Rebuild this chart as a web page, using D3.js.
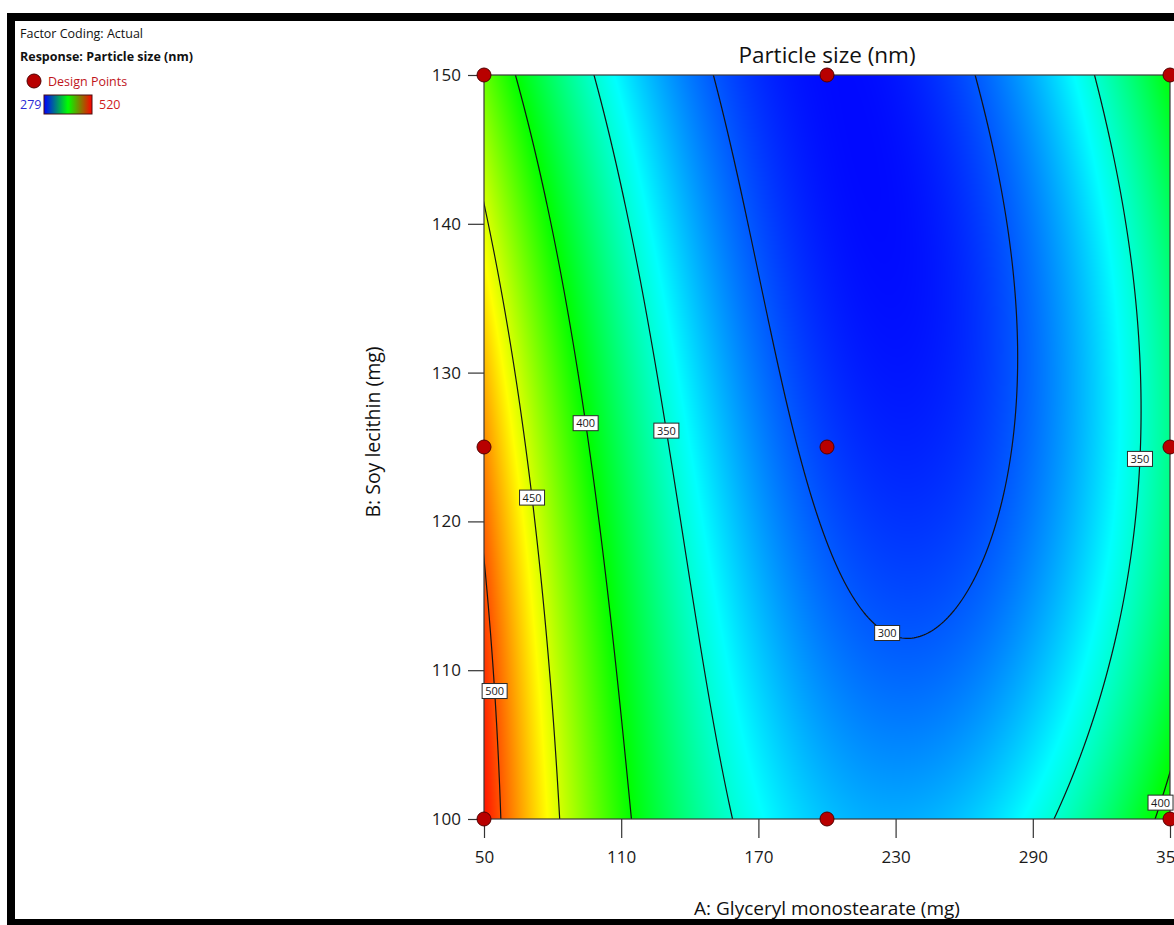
<!DOCTYPE html>
<html>
<head>
<meta charset="utf-8">
<script src="https://cdn.jsdelivr.net/npm/d3@7"></script>
<style>
  html, body { margin: 0; padding: 0; background: #fff; }
  svg { display: block; }
  text { font-family: "Open Sans", "Noto Sans", sans-serif; }
</style>
</head>
<body>
<svg id="chart" width="1174" height="925"></svg>
<script>
// ---- Factors and axes (actual units) ----
const factorA = [50, 350];   // A: Glyceryl monostearate (mg)
const factorB = [100, 150];  // B: Soy lecithin (mg)
const xTicks = [50, 110, 170, 230, 290, 350];
const yTicks = [100, 110, 120, 130, 140, 150];

// ---- Design runs (3 x 3 factorial) ----
const designA = [50, 50, 50, 200, 200, 200, 350, 350, 350];
const designB = [100, 125, 150, 100, 125, 150, 100, 125, 150];

// ---- Fitted response model, coded units: x = (A-200)/150, y = (B-125)/25 ----
const modelTerms = ["1", "x", "y", "xy", "x2", "y2", "xy2", "x2y"];
const modelCoefs = [293.8, -60.5, -21.7, 20.1, 133.5, 9.4, 27.4, -4.2];

// ---- Response colour range and contour levels ----
const responseRange = [279, 520];
const paletteColors = ["#0000ff", "#00ffff", "#00ff00", "#ffff00", "#ff0000"];
const contourLevels = [300, 350, 400, 450, 500];

// ---- Contour labels: level, soy lecithin value where the tag sits, branch ----
const labelLevels = [500, 450, 400, 350, 300, 350, 400];
const labelB = [108.6, 121.6, 126.6, 126.1, 112.5, 124.2, 101.1];
const labelSide = ["left", "left", "left", "left", "left", "right", "right"];

const svg = d3.select("#chart");
const plot = { left: 484, right: 1170, top: 75, bottom: 819 };
const pw = plot.right - plot.left, ph = plot.bottom - plot.top;

const x = d3.scaleLinear().domain(factorA).range([plot.left, plot.right]);
const y = d3.scaleLinear().domain(factorB).range([plot.bottom, plot.top]);
const codeA = d3.scaleLinear().domain(factorA).range([-1, 1]);
const codeB = d3.scaleLinear().domain(factorB).range([-1, 1]);

const coef = Object.fromEntries(modelTerms.map((t, i) => [t, modelCoefs[i]]));
function predictCoded(cx, cy) {
  return coef["1"] + coef.x * cx + coef.y * cy + coef.xy * cx * cy +
         coef.x2 * cx * cx + coef.y2 * cy * cy + coef.xy2 * cx * cy * cy +
         coef.x2y * cx * cx * cy;
}
const predict = (A, B) => predictCoded(codeA(A), codeB(B));

// Colour scale: blue -> cyan -> green -> yellow -> red across the response range
const stops = d3.range(paletteColors.length).map(i =>
  responseRange[0] + i * (responseRange[1] - responseRange[0]) / (paletteColors.length - 1));
const rgbStops = paletteColors.map(c => d3.rgb(c));
const rScale = d3.scaleLinear().domain(stops).range(rgbStops.map(c => c.r)).clamp(true);
const gScale = d3.scaleLinear().domain(stops).range(rgbStops.map(c => c.g)).clamp(true);
const bScale = d3.scaleLinear().domain(stops).range(rgbStops.map(c => c.b)).clamp(true);

// ---- Shaded response surface ----
const canvas = document.createElement("canvas");
canvas.width = pw; canvas.height = ph;
const ctx = canvas.getContext("2d");
const img = ctx.createImageData(pw, ph);
for (let j = 0; j < ph; j++) {
  const B = y.invert(plot.top + j + 0.5);
  for (let i = 0; i < pw; i++) {
    const v = predict(x.invert(plot.left + i + 0.5), B);
    const k = (j * pw + i) * 4;
    img.data[k] = rScale(v);
    img.data[k + 1] = gScale(v);
    img.data[k + 2] = bScale(v);
    img.data[k + 3] = 255;
  }
}
ctx.putImageData(img, 0, 0);

svg.append("defs").append("clipPath").attr("id", "plotClip")
  .append("rect").attr("x", plot.left).attr("y", plot.top).attr("width", pw).attr("height", ph);

svg.append("image")
  .attr("x", plot.left).attr("y", plot.top)
  .attr("width", pw).attr("height", ph)
  .attr("preserveAspectRatio", "none")
  .attr("href", canvas.toDataURL());

// ---- Contour lines (grid sampled a little beyond the plot, then clipped) ----
const step = 2, pad = 6;
const gx0 = plot.left - pad, gy0 = plot.top - pad;
const nx = Math.ceil((pw + 2 * pad) / step) + 1;
const ny = Math.ceil((ph + 2 * pad) / step) + 1;
const grid = new Float64Array(nx * ny);
for (let j = 0; j < ny; j++) {
  const B = y.invert(gy0 + j * step);
  for (let i = 0; i < nx; i++) grid[j * nx + i] = predict(x.invert(gx0 + i * step), B);
}
const contours = d3.contours().size([nx, ny]).thresholds(contourLevels)(grid);
const toPlot = d3.geoTransform({
  point(px, py) { this.stream.point(gx0 + (px - 0.5) * step, gy0 + (py - 0.5) * step); }
});
svg.append("g").attr("clip-path", "url(#plotClip)")
  .selectAll("path").data(contours).join("path")
  .attr("d", d3.geoPath(toPlot))
  .attr("fill", "none")
  .attr("stroke", "#141414")
  .attr("stroke-width", 1.2);

// ---- Plot frame ----
svg.append("rect")
  .attr("x", plot.left).attr("y", plot.top).attr("width", pw).attr("height", ph)
  .attr("fill", "none").attr("stroke", "#3a3a3a").attr("stroke-width", 1.2);

// ---- Axes ----
const xAxis = svg.append("g").attr("transform", `translate(0,${plot.bottom})`)
  .call(d3.axisBottom(x).tickValues(xTicks).tickSize(19).tickPadding(13).tickFormat(d3.format("d")));
const yAxis = svg.append("g").attr("transform", `translate(${plot.left},0)`)
  .call(d3.axisLeft(y).tickValues(yTicks).tickSize(16).tickPadding(7).tickFormat(d3.format("d")));
[xAxis, yAxis].forEach(g => {
  g.select(".domain").remove();
  g.selectAll(".tick line").attr("stroke", "#333").attr("stroke-width", 1.2);
  g.selectAll(".tick text").attr("fill", "#1a1a1a").style("font-size", "17px")
    .style("font-family", "'Open Sans', sans-serif");
});

// ---- Contour value tags ----
function rootAt(level, B, side) {
  const cy = codeB(B);
  const K = coef.x2 + coef.x2y * cy;
  const L = coef.x + coef.xy * cy + coef.xy2 * cy * cy;
  const C = coef["1"] + coef.y * cy + coef.y2 * cy * cy - level;
  const disc = Math.sqrt(Math.max(0, L * L - 4 * K * C));
  const cx = side === "left" ? (-L - disc) / (2 * K) : (-L + disc) / (2 * K);
  return codeA.invert(cx);
}
const tags = svg.append("g");
labelLevels.forEach((lev, i) => {
  const A = rootAt(lev, labelB[i], labelSide[i]);
  const g = tags.append("g").attr("transform", `translate(${x(A)},${y(labelB[i])})`);
  g.append("rect").attr("x", -12.5).attr("y", -7.5).attr("width", 25).attr("height", 15)
    .attr("fill", "#fff").attr("stroke", "#2a2a2a").attr("stroke-width", 1);
  g.append("text").attr("text-anchor", "middle").attr("dy", "0.36em")
    .style("font-size", "11px").attr("fill", "#1a1a1a").text(lev);
});

// ---- Design points ----
svg.append("g").selectAll("circle").data(designA).join("circle")
  .attr("cx", d => x(d))
  .attr("cy", (d, i) => y(designB[i]))
  .attr("r", 7)
  .attr("fill", "#b80000")
  .attr("stroke", "#520000")
  .attr("stroke-width", 1);

// ---- Titles ----
svg.append("text").attr("x", (plot.left + plot.right) / 2).attr("y", 63)
  .attr("text-anchor", "middle").style("font-size", "22.5px").attr("fill", "#111")
  .text("Particle size (nm)");
svg.append("text").attr("x", (plot.left + plot.right) / 2).attr("y", 915)
  .attr("text-anchor", "middle").style("font-size", "19px").attr("fill", "#111")
  .text("A: Glyceryl monostearate (mg)");
svg.append("text").attr("transform", "translate(380,432) rotate(-90)")
  .attr("text-anchor", "middle").style("font-size", "19.5px").attr("fill", "#111")
  .text("B: Soy lecithin (mg)");

// ---- Info block and legend ----
svg.append("text").attr("x", 20).attr("y", 38).style("font-size", "12.5px").attr("fill", "#111")
  .text("Factor Coding: Actual");
svg.append("text").attr("x", 20).attr("y", 61).style("font-size", "12.5px").style("font-weight", "bold")
  .attr("fill", "#111").text("Response: Particle size (nm)");
svg.append("circle").attr("cx", 34).attr("cy", 81).attr("r", 7)
  .attr("fill", "#b80000").attr("stroke", "#520000");
svg.append("text").attr("x", 48).attr("y", 85.5).style("font-size", "12.5px").attr("fill", "#c0141c")
  .text("Design Points");

const grad = svg.select("defs").append("linearGradient").attr("id", "legendGrad");
[[0, "#0000ff"], [0.5, "#00ff00"], [1, "#ff0000"]].forEach(([o, c]) =>
  grad.append("stop").attr("offset", o).attr("stop-color", c));
svg.append("text").attr("x", 20).attr("y", 108.5).style("font-size", "12.5px").attr("fill", "#2b2bd6")
  .text(responseRange[0]);
svg.append("rect").attr("x", 44).attr("y", 95).attr("width", 48).attr("height", 19)
  .attr("fill", "url(#legendGrad)").attr("stroke", "#4a1010").attr("stroke-width", 1);
svg.append("text").attr("x", 99).attr("y", 108.5).style("font-size", "12.5px").attr("fill", "#d01a1a")
  .text(responseRange[1]);

// ---- Outer frame ----
const frame = svg.append("g").attr("fill", "#000");
frame.append("rect").attr("x", 7).attr("y", 13).attr("width", 1167).attr("height", 8);
frame.append("rect").attr("x", 7).attr("y", 13).attr("width", 8).attr("height", 912);
frame.append("rect").attr("x", 7).attr("y", 919).attr("width", 1167).attr("height", 6);
</script>
</body>
</html>
